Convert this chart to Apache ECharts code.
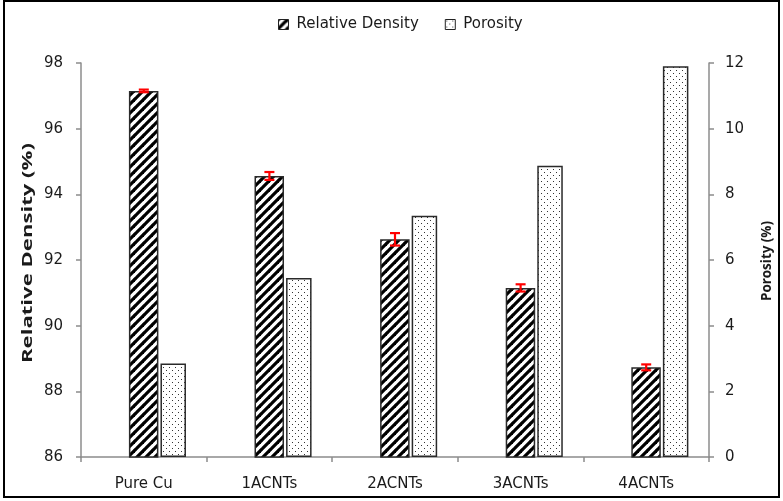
<!DOCTYPE html>
<html><head><meta charset="utf-8">
<script src="https://cdn.jsdelivr.net/npm/echarts@6/dist/echarts.min.js"></script>
<style>html,body{margin:0;padding:0;background:#fff}#c{width:783px;height:501px}</style>
</head><body><div id="c"></div>
<script>
const categories = ['Pure Cu', '1ACNTs', '2ACNTs', '3ACNTs', '4ACNTs'];
const relativeDensity = [97.15, 94.56, 92.63, 91.15, 88.73];
const densityError = [0.04, 0.12, 0.19, 0.11, 0.09];
const porosity = [2.85, 5.45, 7.35, 8.87, 11.9];
const leftTicks = [86, 98, 2];
const rightTicks = [0, 12, 2];
const leftTitle = 'Relative Density (%)';
const rightTitle = 'Porosity (%)';

function hatch() {
  const n = 9;
  const c = document.createElement('canvas'); c.width = n; c.height = n;
  const g = c.getContext('2d');
  g.fillStyle = '#fff'; g.fillRect(0, 0, n, n);
  g.strokeStyle = '#000'; g.lineWidth = 3.2;
  for (const s of [-n, 0, n]) { g.beginPath(); g.moveTo(s - 1, n + 1); g.lineTo(s + n + 1, -1); g.stroke(); }
  return c;
}
function dots() {
  const c = document.createElement('canvas'); c.width = 6; c.height = 6;
  const g = c.getContext('2d');
  g.fillStyle = '#fff'; g.fillRect(0, 0, 6, 6);
  g.fillStyle = '#333';
  g.fillRect(1, 1, 1, 1); g.fillRect(4, 4, 1, 1);
  return c;
}
function textW(t, f) {
  const g = document.createElement('canvas').getContext('2d');
  g.font = f; return g.measureText(t).width;
}
const hatchPat = { image: hatch(), repeat: 'repeat' };
const dotPat = { image: dots(), repeat: 'repeat' };
const font = 'DejaVu Sans';
const txt = '#1a1a1a';
const axisGray = '#8c8c8c';
const lFont = 'bold 15px "Open Sans"';
const rFont = 'bold 15px "Open Sans"';
const lScale = 220 / textW(leftTitle, lFont);
const rScale = 80 / textW(rightTitle, rFont);

const chart = echarts.init(document.getElementById('c'));
chart.setOption({
  animation: false,
  backgroundColor: '#fff',
  textStyle: { fontFamily: font },
  graphic: [
    { type: 'rect', shape: { x: 4, y: 1, width: 775, height: 496 }, style: { fill: 'none', stroke: '#000', lineWidth: 2 }, silent: true },
    { type: 'text', x: 28, y: 253, rotation: Math.PI / 2, scaleX: lScale,
      style: { text: leftTitle, font: lFont, fill: txt, align: 'center', verticalAlign: 'middle' } },
    { type: 'text', x: 767, y: 261, rotation: Math.PI / 2, scaleX: rScale,
      style: { text: rightTitle, font: rFont, fill: txt, align: 'center', verticalAlign: 'middle' } }
  ],
  legend: {
    data: ['Relative Density', 'Porosity'],
    left: 273, top: 12, itemWidth: 10, itemHeight: 10, itemGap: 26,
    icon: 'rect',
    textStyle: { fontFamily: font, fontSize: 15, color: txt, padding: [0, 0, 0, 3] },
    itemStyle: { borderColor: '#222', borderWidth: 1 }
  },
  grid: { left: 81, right: 74, top: 63, bottom: 44, outerBoundsMode: 'none' },
  xAxis: {
    type: 'category', data: categories,
    axisLine: { lineStyle: { color: axisGray, width: 1.5 } },
    axisTick: { show: true, length: 5, lineStyle: { color: axisGray, width: 1.5 } },
    axisLabel: { fontFamily: font, fontSize: 15, color: txt, margin: 20 }
  },
  yAxis: [{
    type: 'value', min: leftTicks[0], max: leftTicks[1], interval: leftTicks[2],
    axisLine: { show: true, lineStyle: { color: axisGray, width: 1.5 } },
    axisTick: { show: true, length: 5, lineStyle: { color: axisGray, width: 1.5 } },
    splitLine: { show: false },
    axisLabel: { fontFamily: font, fontSize: 15, color: txt, margin: 18 }
  }, {
    type: 'value', min: rightTicks[0], max: rightTicks[1], interval: rightTicks[2],
    axisLine: { show: true, lineStyle: { color: axisGray, width: 1.5 } },
    axisTick: { show: true, length: 5, lineStyle: { color: axisGray, width: 1.5 } },
    splitLine: { show: false },
    axisLabel: { fontFamily: font, fontSize: 15, color: txt, margin: 16 }
  }],
  series: [
    { name: 'spacer', type: 'bar', yAxisIndex: 1, barWidth: 25.5, barGap: '7%', data: categories.map(() => null), itemStyle: { color: 'transparent' } },
    { name: 'Relative Density', type: 'bar', yAxisIndex: 0, barWidth: 29.5, barGap: '7%', data: relativeDensity,
      itemStyle: { color: hatchPat, borderColor: '#2a2a2a', borderWidth: 1.5 } },
    { name: 'Porosity', type: 'bar', yAxisIndex: 1, barWidth: 25.5, barGap: '7%', data: porosity,
      itemStyle: { color: dotPat, borderColor: '#2a2a2a', borderWidth: 1.5 } },
    { name: 'err', type: 'custom', yAxisIndex: 0, z: 10,
      data: categories.map((c, i) => [i, relativeDensity[i], densityError[i]]),
      encode: { x: 0, y: 1 },
      renderItem: function (params, api) {
        const i = api.value(0), v = api.value(1), e = api.value(2);
        const top = api.coord([i, v + e]);
        const bot = api.coord([i, v - e]);
        const x = top[0], hw = 5;
        const st = { stroke: '#ff0000', lineWidth: 2.2 };
        return { type: 'group', children: [
          { type: 'line', shape: { x1: x, y1: top[1], x2: x, y2: bot[1] }, style: st },
          { type: 'line', shape: { x1: x - hw, y1: top[1], x2: x + hw, y2: top[1] }, style: st },
          { type: 'line', shape: { x1: x - hw, y1: bot[1], x2: x + hw, y2: bot[1] }, style: st }
        ] };
      }
    }
  ]
});
</script></body></html>
